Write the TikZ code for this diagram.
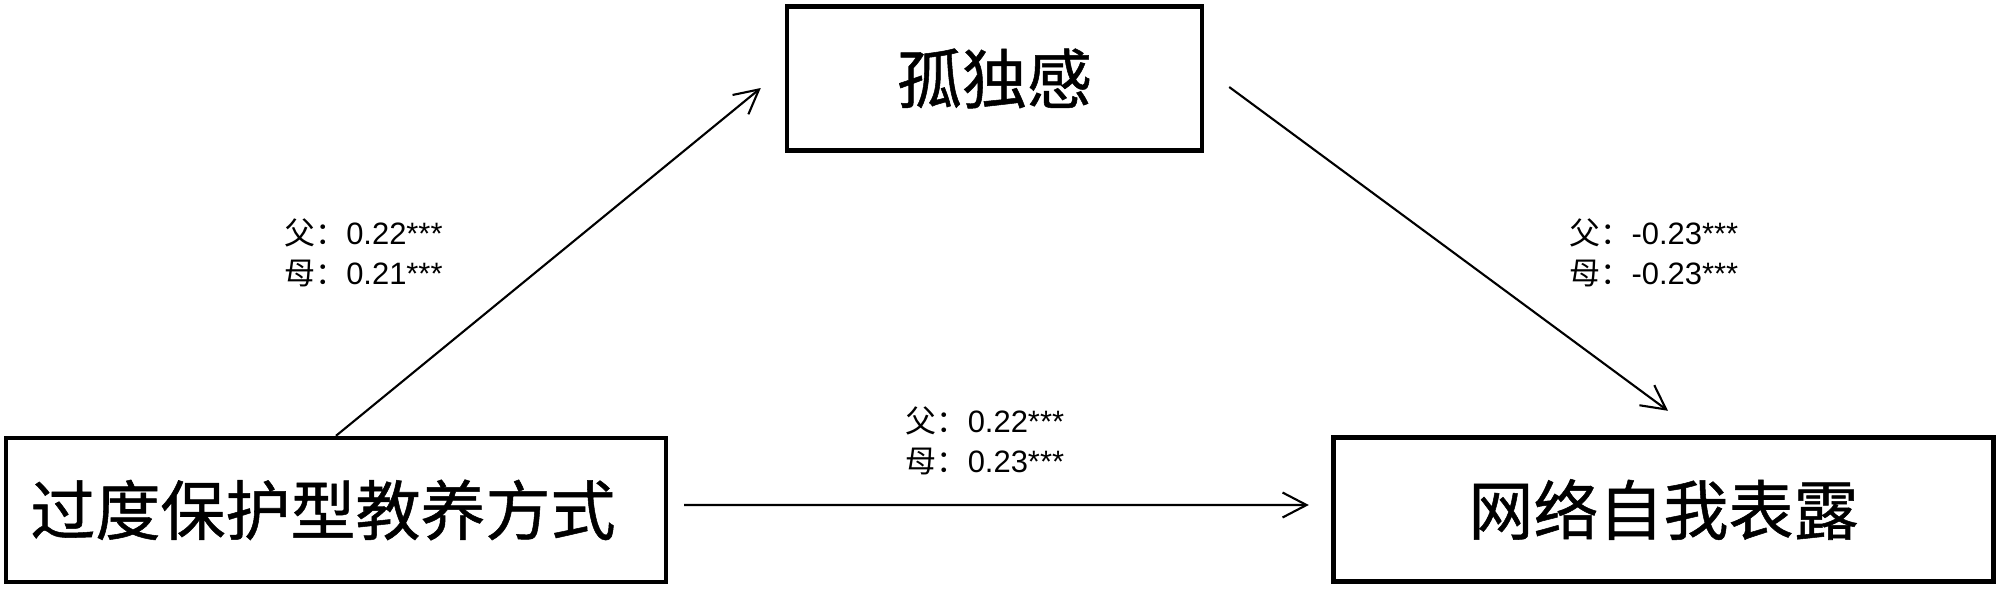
\documentclass[tikz,border=0pt]{standalone}
\usepackage{fontspec}
\setmainfont{Liberation Sans}
\newfontfamily\cjk{Noto Sans CJK SC}
\newfontfamily\cjkbox[FakeBold=0.8]{Noto Sans CJK SC}
\usetikzlibrary{arrows.meta,positioning}

\begin{document}
\begin{tikzpicture}[font=\fontsize{8.8}{11.4}\selectfont,
  box/.style={draw=black,line width=1.25pt,minimum height=1.44cm,inner sep=0pt,font=\cjkbox\fontsize{18.5}{22}\selectfont},
  path/.style={-{Straight Barb[length=2.4mm,width=2.5mm]},line width=0.6pt},
  coef/.style={align=left,inner sep=0pt}]
    \useasboundingbox (0,0) rectangle (20,5.88);
    % Boxes
    \node[box,minimum width=6.6cm] at (3.36,0.78) (protect) {过度保护型教养方式\kern2.6mm};
    \node[box,minimum width=4.15cm] at (9.945,5.095) (lonely) {孤独感};
    \node[box,minimum width=6.6cm] at (16.635,0.785) (disclose) {网络自我表露};

    % Paths with coefficients
    \draw[path] (protect.north) -- ([xshift=-2.4mm,yshift=-0.95mm]lonely.west);
    \draw[path] ([xshift=2.5mm,yshift=-0.85mm]lonely.east) -- ([xshift=0.45mm,yshift=2.45mm]disclose.north);
    \draw[path] ([xshift=1.6mm,yshift=0.5mm]protect.east) -- ([xshift=-2.25mm,yshift=0.45mm]disclose.west);

    \node[coef] at (3.635,3.35) (coefA) {{\cjk 父：}0.22***\\{\cjk 母：}0.21***};
    \node[coef] at (16.54,3.35) (coefB) {{\cjk 父：}-0.23***\\{\cjk 母：}-0.23***};
    \node[coef] at (9.85,1.475) (coefC) {{\cjk 父：}0.22***\\{\cjk 母：}0.23***};
\end{tikzpicture}
\end{document}
